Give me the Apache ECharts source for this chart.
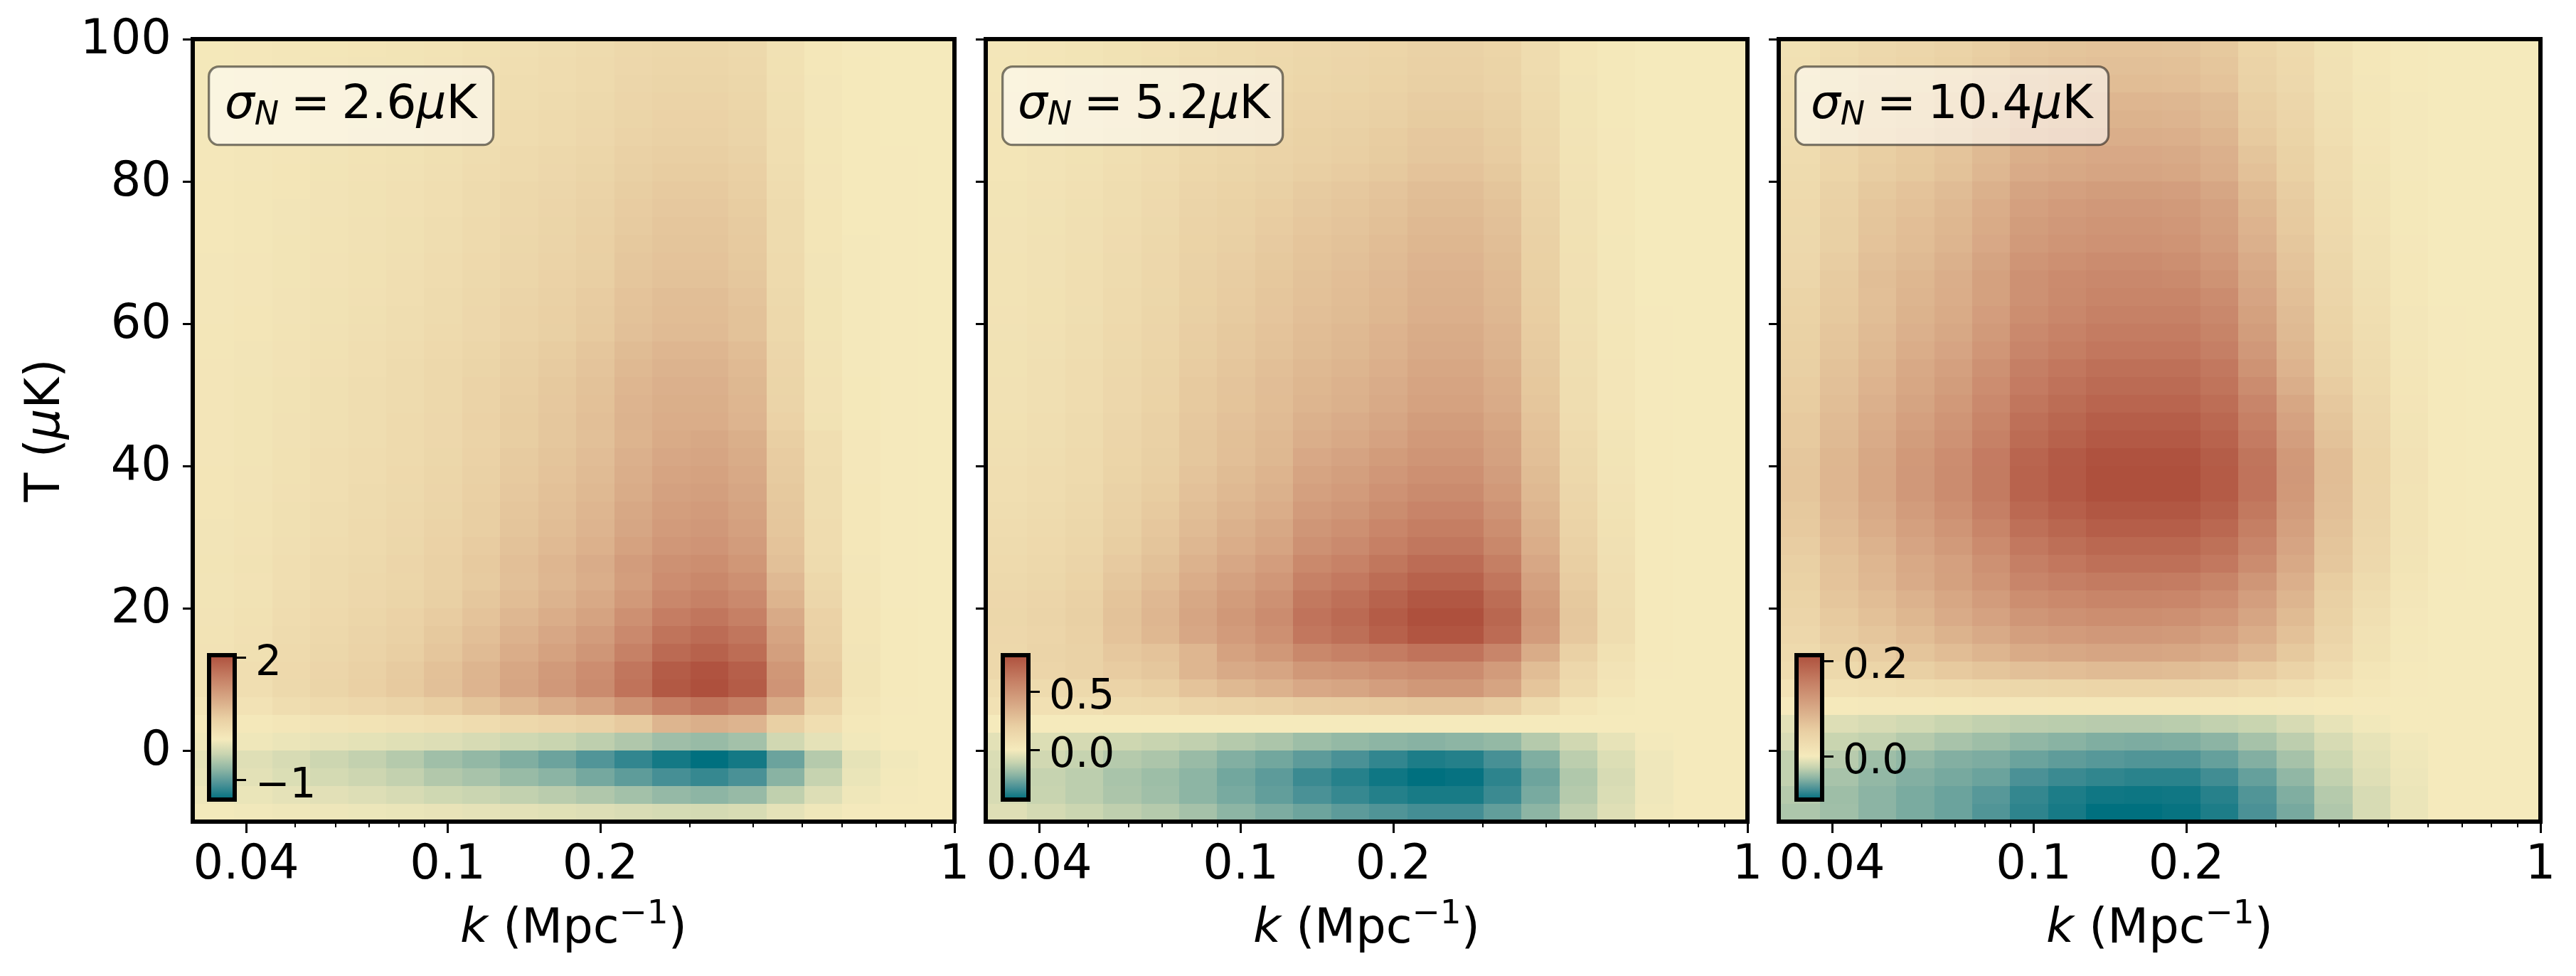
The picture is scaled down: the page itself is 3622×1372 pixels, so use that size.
<!DOCTYPE html>
<html>
<head>
<meta charset="utf-8">
<style>html,body{margin:0;padding:0;background:#fff}#chart{width:3622px;height:1372px}</style>
<script src="https://cdn.jsdelivr.net/npm/echarts@6/dist/echarts.min.js"></script>
</head>
<body>
<div id="chart"></div>
<script>
// bin edges of the k and T grid
const kEdges = [0.03138,0.03787,0.04501,0.0535,0.06359,0.07558,0.08984,0.1068,0.1269,0.1509,0.1793,0.2131,0.2533,0.3011,0.3579,0.4254,0.5056,0.601,0.7143,0.849,1];
const tEdges = [-10,-7.5,-5,-2.5,0,2.5,5,7.5,10,12.5,15,17.5,20,22.5,25,27.5,30,32.5,35,37.5,40,42.5,45,47.5,50,52.5,55,57.5,60,62.5,65,67.5,70,72.5,75,77.5,80,82.5,85,87.5,90,92.5,95,97.5,100];

const kMajor = [0.04,0.1,0.2,1];
const kMinor = [0.05,0.06,0.07,0.08,0.09,0.3,0.4,0.5,0.6,0.7,0.8,0.9];
const tTicks = [0,20,40,60,80,100];

// panel values, rows from T=100 down to T=-10, in units of unitA / unitB / unitC
const unitA = 0.01, unitB = 0.001, unitC = 0.001;
const valuesA = [
[4,5,7,8,10,12,14,18,21,24,28,34,37,37,33,17,6,1,0,0],
[4,5,7,9,11,12,15,19,23,26,30,36,39,39,35,18,6,2,0,0],
[4,5,7,9,11,13,16,20,24,27,31,38,41,41,37,19,7,2,0,0],
[4,6,8,9,12,14,17,21,25,28,33,40,43,43,39,20,7,2,0,0],
[5,6,8,10,12,14,18,22,26,30,34,41,45,45,41,21,7,2,0,0],
[5,6,8,10,13,15,18,23,27,31,36,43,47,47,42,22,8,2,0,0],
[5,7,9,11,14,16,20,24,30,34,39,47,51,51,46,23,8,2,1,0],
[5,7,10,12,15,17,21,26,31,36,41,50,54,54,49,25,9,2,1,0],
[6,8,10,13,16,19,23,28,34,38,44,53,58,58,52,27,9,2,1,0],
[6,8,11,13,16,19,23,29,35,40,46,55,60,60,54,28,10,2,1,0],
[6,8,11,14,17,20,24,30,36,41,47,57,62,62,56,29,10,2,1,0],
[6,8,12,14,17,20,25,31,37,42,49,59,64,64,58,29,10,3,1,0],
[7,9,12,15,18,21,26,32,38,44,50,61,66,66,59,30,11,3,1,0],
[7,9,12,15,18,22,27,33,39,45,52,63,68,68,61,31,11,3,1,0],
[7,9,13,16,19,23,28,35,42,48,55,66,72,72,65,33,12,3,1,0],
[7,10,13,16,20,24,29,36,43,49,56,68,74,74,67,34,12,3,1,0],
[8,10,14,17,21,24,30,36,44,50,58,70,76,76,68,35,12,3,1,0],
[8,11,15,18,22,26,32,39,48,54,62,75,82,82,74,38,13,3,1,0],
[9,11,15,19,23,28,34,41,50,57,65,79,86,86,77,40,14,3,1,0],
[9,12,16,20,24,28,35,43,52,59,68,82,89,89,80,41,15,4,1,0],
[9,12,16,20,25,29,35,44,53,60,69,84,91,91,82,42,15,4,1,0],
[9,12,17,20,25,30,36,45,54,61,71,86,93,93,84,45,16,4,1,0],
[9,12,17,21,25,30,36,44,53,61,70,85,96,99,91,52,22,5,1,0],
[9,12,18,22,26,31,37,45,56,64,73,89,100,103,95,55,23,5,1,0],
[10,13,18,22,27,32,39,47,58,66,76,92,104,107,98,57,24,5,1,0],
[10,13,19,23,28,33,40,49,60,69,79,95,108,111,102,59,24,6,1,0],
[10,14,20,24,29,35,41,51,62,71,82,99,112,115,106,61,25,6,1,0],
[11,14,20,25,30,36,43,52,64,74,84,102,115,119,109,63,26,6,1,0],
[11,15,21,26,31,37,45,55,67,77,88,107,120,124,114,66,27,6,1,0],
[12,16,22,28,33,40,48,58,71,82,94,114,128,132,121,70,29,7,1,0],
[11,15,22,28,34,39,48,57,70,81,92,112,133,140,130,78,34,8,1,0],
[12,16,24,30,36,41,50,61,74,86,98,118,141,148,138,85,38,9,1,0],
[13,18,26,32,39,45,55,66,81,93,106,129,153,161,150,97,45,10,2,0],
[14,19,28,35,42,48,59,71,87,100,114,138,164,173,161,104,48,10,2,0],
[15,20,30,37,44,52,63,76,93,107,122,148,176,185,172,111,52,11,2,0],
[16,22,32,40,48,57,69,83,101,117,133,162,192,202,188,121,57,12,2,0],
[16,23,33,41,49,58,70,84,103,119,136,165,196,206,192,124,58,12,2,0],
[10,15,24,30,36,42,52,64,79,92,104,126,150,161,148,95,43,8,1,0],
[2,4,8,11,14,17,21,27,34,40,46,58,83,91,84,50,22,4,0,0],
[-3,-5,-8,-11,-14,-17,-20,-25,-31,-36,-43,-52,-63,-67,-60,-30,-13,-3,0,0],
[-12,-18,-25,-33,-40,-49,-62,-70,-81,-92,-107,-123,-138,-148,-138,-93,-49,-12,-3,0],
[-10,-15,-21,-27,-33,-40,-51,-57,-67,-75,-87,-100,-113,-121,-111,-76,-38,-9,-2,0],
[-6,-9,-13,-16,-20,-25,-31,-35,-41,-46,-52,-60,-69,-74,-68,-42,-20,-5,-1,0],
[-2,-3,-5,-6,-7,-9,-11,-13,-15,-17,-20,-23,-26,-27,-24,-13,-5,-1,0,0]
];
const valuesB = [
[28,36,46,61,75,98,110,125,139,148,160,178,178,158,103,39,14,2,0,0],
[30,37,48,63,78,102,115,130,145,154,167,186,186,166,108,41,15,2,0,0],
[31,39,50,66,81,107,120,136,151,161,175,194,194,173,113,43,16,2,0,0],
[34,42,55,71,88,116,130,147,164,174,189,210,210,187,122,46,17,2,0,0],
[35,44,57,74,92,120,136,153,171,182,197,219,219,195,127,48,18,2,0,0],
[38,47,61,80,99,129,146,165,183,195,212,235,235,209,136,52,19,2,0,0],
[39,49,63,83,102,134,151,170,190,202,219,243,243,216,141,53,19,2,0,0],
[41,52,67,88,109,142,161,181,202,215,233,259,259,231,150,57,21,3,0,0],
[45,57,74,96,119,156,175,198,221,235,255,283,283,252,164,62,23,3,0,0],
[47,59,77,100,124,162,183,207,230,245,266,295,295,263,171,65,24,3,0,0],
[49,61,80,104,129,169,190,215,239,255,276,307,307,273,178,68,25,3,0,0],
[51,64,83,109,134,176,198,224,250,266,288,320,320,285,186,70,26,3,0,0],
[53,66,86,112,139,182,205,231,257,274,297,330,330,294,191,73,26,3,0,0],
[54,68,88,116,143,187,211,238,265,282,306,340,340,303,197,75,27,3,0,0],
[56,70,90,118,146,191,216,244,271,289,313,348,348,310,202,77,28,3,0,0],
[57,71,93,121,150,196,221,249,278,295,320,356,356,317,206,78,28,4,0,0],
[60,74,97,126,156,205,231,260,290,309,335,372,372,331,216,82,30,4,0,0],
[61,76,99,129,160,209,236,266,296,315,342,380,380,338,220,88,32,4,0,0],
[63,79,103,135,166,218,246,277,309,329,356,396,396,352,230,93,34,4,0,0],
[66,82,107,139,172,226,254,287,320,340,369,410,410,365,238,96,35,4,0,0],
[67,84,108,141,174,225,256,290,328,349,379,421,421,375,244,99,36,4,0,0],
[71,89,113,149,184,235,268,300,347,369,401,445,445,396,258,108,40,4,0,0],
[78,93,116,155,190,240,275,310,363,386,419,465,465,414,270,118,44,5,0,0],
[84,97,118,160,194,243,281,315,388,412,451,485,485,422,281,128,48,5,0,0],
[88,102,122,168,204,255,296,332,408,434,474,510,510,444,296,138,52,5,0,0],
[92,107,128,177,214,268,310,348,428,455,498,535,535,465,310,148,57,5,0,0],
[98,113,136,186,226,283,328,367,452,480,525,565,565,492,328,158,63,5,0,0],
[105,120,144,197,239,299,347,389,478,508,556,598,598,520,347,172,70,6,0,0],
[114,126,151,208,252,316,366,410,505,536,587,631,631,549,366,189,76,6,0,0],
[122,136,163,224,272,340,394,442,544,578,632,680,680,592,394,204,82,7,0,0],
[131,146,175,240,291,364,422,473,582,619,677,728,728,633,422,218,87,7,0,0],
[140,155,186,256,311,389,451,505,622,660,723,777,777,676,451,233,93,8,0,0],
[146,162,194,267,324,405,469,526,647,688,752,809,809,704,469,243,97,8,0,0],
[141,157,188,259,314,393,455,510,628,667,730,785,785,683,455,236,94,8,0,0],
[137,162,178,235,259,324,421,469,550,582,607,647,647,560,370,190,70,6,0,0],
[137,154,178,218,243,324,380,405,469,485,510,526,526,455,290,140,50,4,0,0],
[97,113,129,170,202,259,307,340,388,405,437,469,469,410,250,120,40,3,0,0],
[65,73,81,113,121,154,170,186,210,218,226,243,243,210,113,40,10,0,0,0],
[0,0,0,0,0,0,0,0,0,0,0,0,0,0,0,0,0,0,0,0],
[-42,-60,-76,-93,-106,-119,-140,-157,-183,-200,-212,-221,-212,-200,-140,-85,-34,-4,0,0],
[-64,-85,-110,-140,-157,-191,-230,-255,-289,-319,-353,-383,-374,-323,-234,-128,-60,-13,0,0],
[-72,-110,-128,-162,-183,-212,-255,-289,-340,-370,-404,-425,-417,-361,-264,-149,-72,-13,0,0],
[-72,-106,-128,-157,-178,-212,-246,-280,-319,-348,-374,-391,-391,-340,-246,-140,-64,-13,0,0],
[-51,-77,-98,-123,-140,-170,-212,-238,-264,-289,-310,-327,-327,-281,-212,-119,-51,-9,0,0]
];
const valuesC = [
[18,27,35,39,45,53,63,66,68,68,67,61,42,31,16,6,2,0,0,0],
[19,29,37,42,48,56,66,70,72,72,71,65,45,33,17,6,2,0,0,0],
[21,30,40,44,50,59,70,74,76,76,74,68,47,35,18,7,2,0,0,0],
[23,34,44,49,56,66,78,82,85,85,83,77,53,39,20,8,3,0,0,0],
[24,36,46,52,59,69,82,86,89,89,87,80,55,41,21,8,3,0,0,0],
[26,38,49,55,63,74,87,92,95,95,93,86,59,44,23,9,3,0,0,0],
[28,41,53,59,67,80,94,99,102,102,100,92,66,48,27,11,3,0,0,0],
[29,42,55,61,70,83,98,103,106,106,104,95,71,50,28,12,3,0,0,0],
[32,47,61,68,77,91,108,113,117,117,115,105,79,55,30,13,4,0,0,0],
[33,49,64,71,81,96,113,119,123,123,121,111,84,58,32,14,4,0,0,0],
[34,51,66,74,84,99,117,123,127,127,124,114,88,60,33,15,4,0,0,0],
[35,52,68,76,86,102,121,127,131,131,128,118,92,63,35,17,5,0,0,0],
[37,55,72,80,91,108,127,134,138,138,135,124,98,67,38,18,6,0,0,0],
[39,58,75,84,95,112,132,140,144,144,141,130,103,70,39,20,6,0,0,0],
[44,59,73,86,96,112,132,141,148,148,148,139,107,73,41,21,6,0,0,0],
[46,61,75,89,99,116,136,145,153,153,153,144,112,77,44,23,7,1,0,0],
[48,64,78,92,103,121,142,151,159,159,159,149,117,80,46,25,7,1,0,0],
[50,66,81,96,107,125,147,157,165,165,165,155,123,84,49,27,8,1,0,0],
[52,70,85,101,113,132,155,165,174,174,174,164,130,88,52,29,9,2,0,0],
[54,72,88,104,117,137,160,171,180,180,180,169,139,95,57,32,10,2,0,0],
[56,75,92,108,122,142,166,178,187,187,187,176,147,104,62,35,11,2,0,0],
[59,78,96,113,127,148,174,185,195,195,195,183,154,110,66,37,12,2,0,0],
[60,80,98,117,131,153,179,191,201,201,201,189,160,115,70,39,13,2,0,0],
[63,84,103,122,137,160,187,200,210,210,210,197,168,122,76,42,15,2,0,0],
[64,85,104,123,138,161,189,201,212,212,212,199,170,123,76,42,15,2,0,0],
[64,85,104,123,138,161,189,201,212,212,212,199,170,122,75,41,14,2,0,0],
[61,82,100,118,133,155,182,194,204,204,204,192,163,118,73,41,14,2,0,0],
[59,78,96,113,127,148,174,185,195,195,195,183,156,113,70,39,14,2,0,0],
[55,74,90,107,120,140,164,175,184,184,184,173,147,107,66,37,13,2,0,0],
[52,70,85,101,113,132,155,165,174,174,174,164,139,101,63,35,12,2,0,0],
[48,68,82,98,112,127,147,155,161,161,159,149,126,93,56,29,10,1,0,0],
[44,64,76,90,104,118,136,143,148,148,146,137,115,86,52,25,7,0,0,0],
[41,60,71,84,98,110,126,132,136,136,133,125,106,79,48,22,5,0,0,0],
[37,55,64,76,89,100,114,119,123,123,121,113,96,71,43,18,4,0,0,0],
[32,48,55,66,76,86,99,103,106,106,104,98,83,61,37,16,3,0,0,0],
[28,34,42,51,59,66,72,74,78,78,76,72,60,45,27,10,2,0,0,0],
[15,19,23,28,32,36,38,40,42,42,41,39,32,24,14,6,1,0,0,0],
[1,2,3,3,4,5,5,6,6,6,6,5,4,3,2,1,0,0,0,0],
[-9,-12,-15,-18,-22,-25,-27,-28,-29,-29,-28,-25,-22,-15,-7,-2,0,0,0,0],
[-14,-22,-25,-30,-35,-39,-44,-47,-50,-51,-50,-46,-36,-27,-15,-7,-2,0,0,0],
[-25,-29,-39,-44,-49,-51,-57,-61,-64,-66,-66,-59,-49,-36,-20,-9,-3,0,0,0],
[-25,-35,-43,-49,-53,-57,-68,-73,-76,-78,-78,-71,-59,-44,-25,-11,-4,0,0,0],
[-30,-39,-46,-52,-57,-64,-75,-82,-86,-87,-86,-79,-66,-50,-30,-15,-5,0,0,0],
[-33,-38,-46,-52,-57,-66,-77,-84,-91,-91,-89,-82,-68,-53,-32,-15,-5,0,0,0]
];

const rangeA = [-1.48,2.06], rangeB = [-0.425,0.809], rangeC = [-0.091,0.2124];
const barTicksA = [-1,0,2], barTicksB = [0,0.5], barTicksC = [0,0.2];
const barLabelsA = ['\u22121','0','2'], barLabelsB = ['0.0','0.5'], barLabelsC = ['0.0','0.2'];
const noiseLabels = ['2.6','5.2','10.4'];

const posColors = ['#f5eabc','#e9cfa3','#d6a583','#c47c62','#ae503d'];
const negColors = ['#f5eabc','#c8d4b0','#8db5a4','#4a9196','#00707f'];

const FONT = 'DejaVu Sans';
const chart = echarts.init(document.getElementById('chart'));

// colour of a value, pale at zero and running to each end of the range
function cmap(v, range) {
    if (v >= 0) return echarts.color.lerp(Math.min(v / range[1], 1), posColors);
    return echarts.color.lerp(Math.min(v / range[0], 1), negColors);
}

function cellData(values, unit) {
    const out = [];
    values.forEach((row, i) => {
        const r = values.length - 1 - i;
        row.forEach((v, c) => {
            out.push([kEdges[c], kEdges[c + 1], tEdges[r], tEdges[r + 1], v * unit]);
        });
    });
    return out;
}

const panels = [
    {left: 271, values: valuesA, unit: unitA, range: rangeA, ticks: barTicksA, labels: barLabelsA, boxW: 400},
    {left: 1386, values: valuesB, unit: unitB, range: rangeB, ticks: barTicksB, labels: barLabelsB, boxW: 394},
    {left: 2501, values: valuesC, unit: unitC, range: rangeC, ticks: barTicksC, labels: barLabelsC, boxW: 440}
];

const grid = [], xAxis = [], yAxis = [], series = [], graphic = [];

panels.forEach((p, i) => {
    grid.push({left: p.left, top: 55, width: 1071, height: 1100, outerBoundsMode: 'none', show: true, backgroundColor: 'transparent', borderColor: '#000', borderWidth: 6, z: 5});
    xAxis.push({
        type: 'log', logBase: 10, gridIndex: i, position: 'bottom', min: kEdges[0], max: 1,
        axisLine: {show: false, onZero: false}, splitLine: {show: false},
        axisTick: {show: true, length: 16, lineStyle: {color: '#000', width: 3}, customValues: kMajor},
        axisLabel: {show: true, customValues: kMajor, hideOverlap: false, margin: 29, fontFamily: FONT, fontSize: 67, color: '#000', formatter: v => String(v)},
        name: '{k|k} ({n|Mpc}{s|\u22121}{n|)}', nameLocation: 'middle', nameGap: 107,
        nameTextStyle: {fontFamily: FONT, fontSize: 67, color: '#000', rich: {
            k: {fontFamily: FONT, fontSize: 67, fontStyle: 'italic', color: '#000'},
            n: {fontFamily: FONT, fontSize: 67, color: '#000'},
            s: {fontFamily: FONT, fontSize: 47, color: '#000', padding: [0, 0, 44, 0]}
        }}
    });
    yAxis.push({
        type: 'value', gridIndex: i, min: -10, max: 100,
        axisLine: {show: false, onZero: false}, splitLine: {show: false},
        axisTick: {show: true, length: 14, lineStyle: {color: '#000', width: 3}, customValues: tTicks},
        axisLabel: {show: i === 0, customValues: tTicks, margin: 30, verticalAlign: 'top', lineHeight: 6, fontFamily: FONT, fontSize: 67, color: '#000'},
        name: i === 0 ? 'T ({m|\u03bc}K)' : '', nameLocation: 'middle', nameRotate: 90, nameGap: 172,
        nameTextStyle: {fontFamily: FONT, fontSize: 67, color: '#000', rich: {m: {fontFamily: FONT, fontSize: 67, fontStyle: 'italic', color: '#000'}}}
    });
    series.push({
        type: 'custom', xAxisIndex: i, yAxisIndex: i, coordinateSystem: 'cartesian2d', z: 2,
        data: cellData(p.values, p.unit), encode: {x: [0, 1], y: [2, 3]}, clip: true, animation: false, silent: true,
        renderItem: (params, api) => {
            const a = api.coord([api.value(0), api.value(2)]);
            const b = api.coord([api.value(1), api.value(3)]);
            const x0 = Math.round(a[0]), x1 = Math.round(b[0]), y0 = Math.round(b[1]), y1 = Math.round(a[1]);
            return {type: 'rect', shape: {x: x0, y: y0, width: x1 - x0, height: y1 - y0}, style: {fill: cmap(api.value(4), p.range)}};
        }
    });
});

// shorter minor ticks on the k axes
panels.forEach((p, i) => {
    xAxis.push({
        type: 'log', logBase: 10, gridIndex: i, position: 'bottom', min: kEdges[0], max: 1,
        axisLine: {show: false, onZero: false}, splitLine: {show: false}, axisLabel: {show: false},
        axisTick: {show: true, length: 8, lineStyle: {color: '#000', width: 2}, customValues: kMinor}
    });
});

// small colour bars inside each panel
panels.forEach((p, i) => {
    const gi = i + 3;
    grid.push({left: p.left + 23 + (i === 1 ? 1 : 0) + (i === 2 ? 2 : 0), top: 921, width: 36, height: 203, outerBoundsMode: 'none', show: true, backgroundColor: 'transparent', borderColor: '#000', borderWidth: 6, z: 7});
    xAxis.push({type: 'value', gridIndex: gi, min: 0, max: 1, show: false});
    yAxis.push({
        type: 'value', gridIndex: gi, position: 'right', min: p.range[0], max: p.range[1], z: 8,
        axisLine: {show: false, onZero: false}, splitLine: {show: false},
        axisTick: {show: true, length: 16, lineStyle: {color: '#000', width: 3}, customValues: p.ticks},
        axisLabel: {show: true, customValues: p.ticks, showMinLabel: true, showMaxLabel: true, hideOverlap: false, margin: 29, verticalAlign: 'top', lineHeight: 18, fontFamily: FONT, fontSize: 58, color: '#000',
            formatter: v => p.labels[p.ticks.indexOf(v)]}
    });
    const zero = -p.range[0] / (p.range[1] - p.range[0]);
    const stops = [];
    negColors.forEach((c, j) => stops.push({offset: zero * (1 - j / 4), color: c}));
    posColors.forEach((c, j) => stops.push({offset: zero + (1 - zero) * j / 4, color: c}));
    stops.sort((s, t) => s.offset - t.offset);
    series.push({
        type: 'custom', xAxisIndex: 3 + 3 + i, yAxisIndex: gi, coordinateSystem: 'cartesian2d', z: 6,
        data: [[0, 1, p.range[0], p.range[1]]], encode: {x: [0, 1], y: [2, 3]}, animation: false, silent: true,
        renderItem: (params, api) => {
            const a = api.coord([0, api.value(2)]);
            const b = api.coord([1, api.value(3)]);
            return {type: 'rect', shape: {x: a[0], y: b[1], width: b[0] - a[0], height: a[1] - b[1]},
                style: {fill: new echarts.graphic.LinearGradient(0, 1, 0, 0, stops)}};
        }
    });
    // noise label box
    graphic.push({type: 'rect', left: p.left + 21 + (i === 1 ? 1 : 0) + (i === 2 ? 1 : 0), top: 92, shape: {width: p.boxW, height: 110, r: 14},
        style: {fill: 'rgba(255,255,255,0.55)', stroke: 'rgba(0,0,0,0.5)', lineWidth: 3.3}, z: 10});
    graphic.push({type: 'text', left: p.left + 45, top: 116, z: 11, style: {
        text: '{i|\u03c3}{u|N}{r|\u2005=\u2005' + noiseLabels[i] + '}{i|\u03bc}{r|K}',
        fill: '#000', font: '66px "DejaVu Sans"',
        rich: {
            i: {fontFamily: FONT, fontSize: 66, fontStyle: 'italic', fill: '#000'},
            u: {fontFamily: FONT, fontSize: 46, fontStyle: 'italic', fill: '#000', padding: [28, 0, 0, 0]},
            r: {fontFamily: FONT, fontSize: 66, fill: '#000'}
        }
    }});
});

chart.setOption({backgroundColor: '#fff', animation: false, grid, xAxis, yAxis, series, graphic});
</script>
</body>
</html>
